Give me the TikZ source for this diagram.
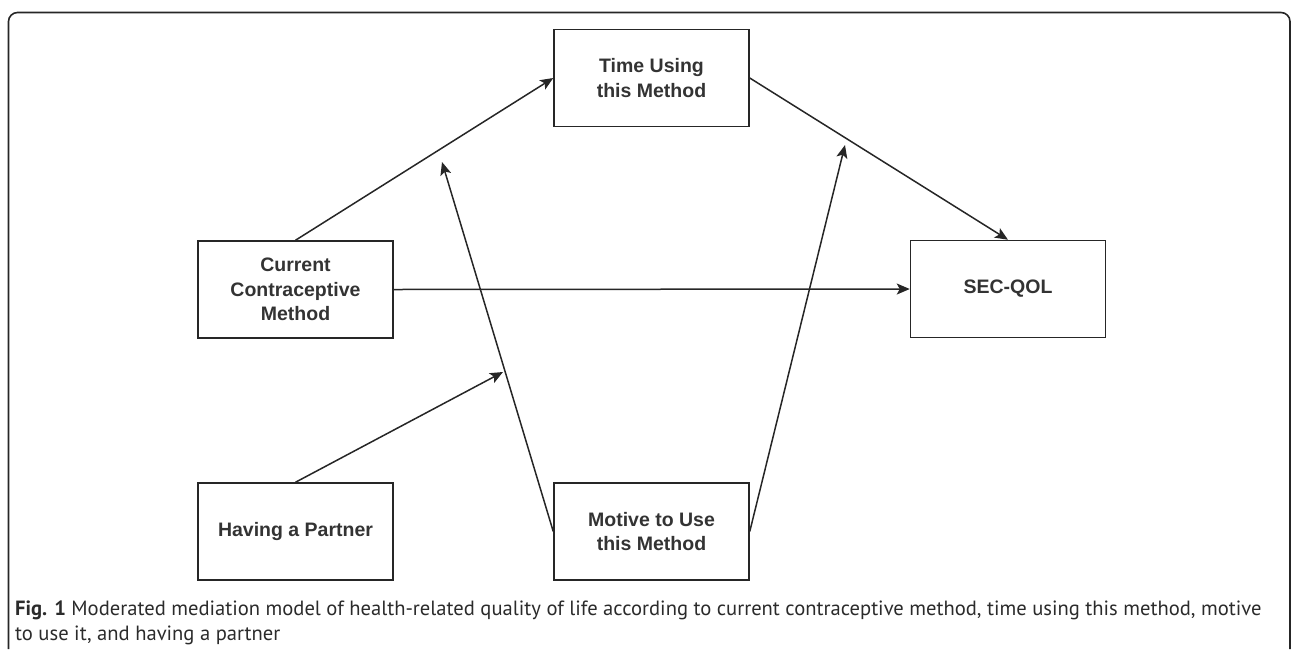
\documentclass[tikz,border=0pt]{standalone}
\usepackage{fontspec}
\setmainfont{Liberation Sans}
\newfontfamily\capfont{PT Sans}
\usetikzlibrary{arrows.meta}
\definecolor{capgray}{HTML}{2B2B2B}
\tikzset{
  box/.style={draw=black!85, line width=1.5pt, minimum width=195pt, minimum height=97pt, inner sep=0pt, align=center, font=\fontsize{19.5}{24.5}\selectfont\bfseries, text=black!80},
  link/.style={draw=black!85, line width=1.5pt, -{Stealth[length=13pt,width=11pt,inset=3pt]}},
}
\begin{document}
\begin{tikzpicture}[x=1pt,y=-1pt]
\useasboundingbox (0,0) rectangle (1293,649);
\draw[black!85, line width=1.6pt, rounded corners=9pt] (8.5,649) -- (8.5,12.5) -- (1290,12.5) -- (1290,649);
\node[box] (time) at (651.5,78) {Time Using\\this Method};
\node[box] (cur) at (295.5,289.5) {Current\\Contraceptive\\Method};
\node[box] (sec) at (1008,289) {SEC-QOL};
\node[box] (hav) at (295.5,531.5) {Having a Partner};
\node[box] (mot) at (651.5,531.5) {Motive to Use\\this Method};
\coordinate (m1) at (442,162);
\coordinate (m2) at (845,145);
\coordinate (h1) at (503,372);
\draw[link] (cur.north) -- (time.west);
\draw[link] (time.east) -- (sec.north);
\draw[link] (cur.east) -- (sec.west);
\draw[link] (mot.west) -- (m1);
\draw[link] (mot.east) -- (m2);
\draw[link] (hav.north) -- (h1);
\node[anchor=north west, inner sep=0pt, align=left, text=capgray, font=\capfont\fontsize{20.6}{25}\selectfont] (cap) at (15,601) {\textbf{Fig. 1} Moderated mediation model of health-related quality of life according to current contraceptive method, time using this method, motive\\to use it, and having a partner};
\end{tikzpicture}
\end{document}
